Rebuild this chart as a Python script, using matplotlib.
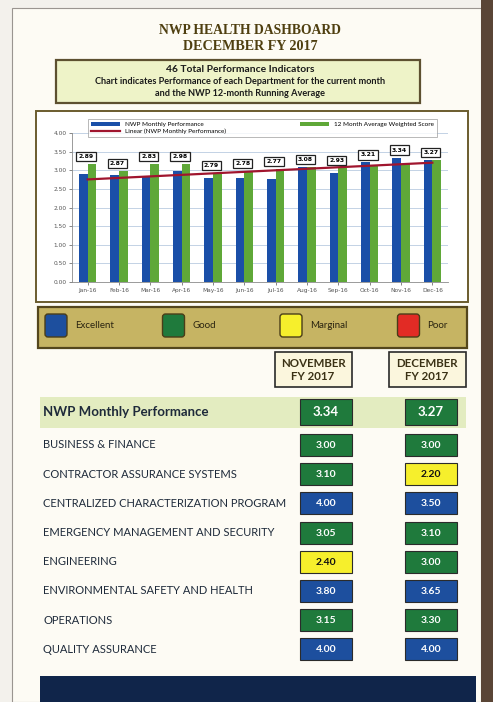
import numpy as np
import matplotlib.pyplot as plt
from matplotlib.patches import Rectangle, FancyBboxPatch

# ---- data ----
months = ["Jan-16", "Feb-16", "Mar-16", "Apr-16", "May-16", "Jun-16",
          "Jul-16", "Aug-16", "Sep-16", "Oct-16", "Nov-16", "Dec-16"]
monthly_perf = [2.89, 2.87, 2.83, 2.98, 2.79, 2.78, 2.77, 3.08, 2.93, 3.21, 3.34, 3.27]
avg_score = [3.16, 2.98, 3.16, 3.16, 2.92, 2.98, 3.03, 3.08, 3.07, 3.13, 3.16, 3.28]

departments = ["BUSINESS & FINANCE", "CONTRACTOR ASSURANCE SYSTEMS",
               "CENTRALIZED CHARACTERIZATION PROGRAM",
               "EMERGENCY MANAGEMENT AND SECURITY", "ENGINEERING",
               "ENVIRONMENTAL SAFETY AND HEALTH", "OPERATIONS", "QUALITY ASSURANCE"]
nov_scores = [3.00, 3.10, 4.00, 3.05, 2.40, 3.80, 3.15, 4.00]
dec_scores = [3.00, 2.20, 3.50, 3.10, 3.00, 3.65, 3.30, 4.00]
nwp_nov = 3.34
nwp_dec = 3.27

rating_names = ["Excellent", "Good", "Marginal", "Poor"]
rating_colors = ["#1d4f9e", "#1f7a3c", "#f6ef2c", "#e22b25"]

W, H = 493, 702
plt.rcParams['font.family'] = ['Lato', 'DejaVu Sans']

fig = plt.figure(figsize=(W / 100, H / 100), dpi=100)
fig.patch.set_facecolor("#f3f1ec")

# background axes in pixel coordinates (y down)
bg = fig.add_axes([0, 0, 1, 1])
bg.set_xlim(0, W)
bg.set_ylim(H, 0)
bg.axis("off")


def rect(x0, y0, x1, y1, **kw):
    bg.add_patch(Rectangle((x0, y0), x1 - x0, y1 - y0, **kw))


def score_color(v):
    if v >= 3.5:
        return rating_colors[0]
    if v >= 2.5:
        return rating_colors[1]
    if v >= 2.0:
        return rating_colors[2]
    return rating_colors[3]


# sheet + scanned edge
rect(12, 8, 481, H, facecolor="#fdfbf4", edgecolor="#9a9590", lw=0.8)
rect(481, 0, W, H, facecolor="#5a4536", edgecolor="none")

# titles
title_kw = dict(ha="center", va="center", color="#4f3f10", fontweight="bold",
                family=["Liberation Serif"])
bg.text(250, 30, "NWP HEALTH DASHBOARD", fontsize=9.8, **title_kw)
bg.text(250, 47, "DECEMBER FY 2017", fontsize=10.2, **title_kw)

# subtitle box
rect(56, 60, 420, 103, facecolor="#eef3c8", edgecolor="#5d5030", lw=1.6)
bg.text(240, 69, "46 Total Performance Indicators", ha="center", va="center",
        fontsize=7.4, fontweight="bold", color="#1a1a1a")
bg.text(240, 81, "Chart indicates Performance of each Department for the current month",
        ha="center", va="center", fontsize=6.6, fontweight="bold", color="#1a1a1a")
bg.text(240, 93, "and the NWP 12-month Running Average", ha="center", va="center",
        fontsize=6.6, fontweight="bold", color="#1a1a1a")

# chart panel
rect(36, 111, 468, 302, facecolor="white", edgecolor="#6b5c2e", lw=1.4)

# ---- bar chart ----
ax = fig.add_axes([72 / W, 1 - 282 / H, (448 - 72) / W, (282 - 133) / H])
x = np.arange(len(months))
bw = 0.28
ax.bar(x - bw / 2, monthly_perf, bw, color="#1a4fa8", label="NWP Monthly Performance", zorder=2)
ax.bar(x + bw / 2, avg_score, bw, color="#5fa838", label="12 Month Average Weighted Score", zorder=2)
coef = np.polyfit(x, monthly_perf, 1)
ax.plot(x, np.polyval(coef, x), color="#a0152e", lw=1.6, zorder=3,
        label="Linear (NWP Monthly Performance)")
for i, v in enumerate(monthly_perf):
    ax.text(i - 0.05, max(v, avg_score[i]) + 0.2, f"{v:.2f}", ha="center", va="center",
            fontsize=4.4, fontweight="bold", family=["DejaVu Sans"], zorder=4,
            bbox=dict(boxstyle="square,pad=0.35", fc="white", ec="#222222", lw=0.9))
ax.set_xlim(-0.5, len(months) - 0.5)
ax.set_ylim(0, 4.0)
ax.set_yticks(np.arange(0, 4.01, 0.5))
ax.set_yticklabels([f"{t:.2f}" for t in np.arange(0, 4.01, 0.5)])
ax.set_xticks(x)
ax.set_xticklabels(months)
ax.tick_params(labelsize=4.2, length=2, width=0.5, colors="#555555", pad=2)
for lab in ax.get_xticklabels() + ax.get_yticklabels():
    lab.set_family(["DejaVu Sans"])
ax.grid(axis="y", color="#b9cbe0", lw=0.6, zorder=0)
for s in ["top", "right"]:
    ax.spines[s].set_visible(False)
for s in ["left", "bottom"]:
    ax.spines[s].set_color("#8a8a8a")
    ax.spines[s].set_linewidth(0.6)
ax.set_facecolor("white")
h, l = ax.get_legend_handles_labels()
order = [1, 0, 2]
leg = ax.legend([h[k] for k in order], [l[k] for k in order], ncol=2, fontsize=4.6,
                loc="upper left", bbox_to_anchor=((85 - 72) / 376, 1 + (133 - 116) / 149,
                                                  (440 - 85) / 376, 0.0),
                mode="expand", frameon=True, borderpad=0.4, handlelength=4.5,
                handleheight=0.7, labelspacing=0.25, fancybox=False)
leg.get_frame().set_edgecolor("#999999")
leg.get_frame().set_linewidth(0.6)

# ---- rating legend panel ----
rect(38, 307, 467, 348, facecolor="#c6b463", edgecolor="#54461c", lw=1.6)
for k, (name, col) in enumerate(zip(rating_names, rating_colors)):
    x0 = 45 + k * 117.5
    bg.add_patch(FancyBboxPatch((x0, 314), 22, 23, boxstyle="round,pad=0,rounding_size=3",
                                facecolor=col, edgecolor="#4a3d18", lw=1.0))
    bg.text(x0 + 30, 326, name, ha="left", va="center", fontsize=7, color="#2a2410")

# ---- score table ----
nov_x, dec_x = 326, 431
box_w = 52
for cx, lines in [(315, "NOVEMBER\nFY 2017"), (429, "DECEMBER\nFY 2017")]:
    rect(cx - 40, 352, cx + 37, 387, facecolor="#fbf6dd", edgecolor="#2a2a2a", lw=1.2)
    bg.text(cx - 2, 370, lines, ha="center", va="center", fontsize=8.3, fontweight="bold",
            color="#3a3115", linespacing=1.2)

# highlight row
rect(40, 397, 466, 428, facecolor="#e3ecc0", edgecolor="none")
bg.text(43, 412, "NWP Monthly Performance", ha="left", va="center", fontsize=9.5,
        fontweight="bold", color="#1e2a3a")
for cx, v in [(nov_x, nwp_nov), (dec_x, nwp_dec)]:
    rect(cx - box_w / 2, 399, cx + box_w / 2, 425, facecolor=score_color(v),
         edgecolor="#2b2b2b", lw=0.8)
    bg.text(cx, 412.5, f"{v:.2f}", ha="center", va="center", fontsize=9.5,
            fontweight="bold", color="white")

for r, dept in enumerate(departments):
    yc = 445 + r * 29.2
    bg.text(43, yc, dept, ha="left", va="center", fontsize=8, color="#1e2a3a")
    for cx, v in [(nov_x, nov_scores[r]), (dec_x, dec_scores[r])]:
        col = score_color(v)
        rect(cx - box_w / 2, yc - 11, cx + box_w / 2, yc + 11, facecolor=col,
             edgecolor="#2b2b2b", lw=0.8)
        bg.text(cx, yc + 0.5, f"{v:.2f}", ha="center", va="center", fontsize=7.5,
                fontweight="bold", color="#111111" if col == rating_colors[2] else "white")

# bottom navy bar
rect(40, 676, 476, H, facecolor="#10254a", edgecolor="none")

fig.savefig("out.png", dpi=100, facecolor=fig.get_facecolor())
